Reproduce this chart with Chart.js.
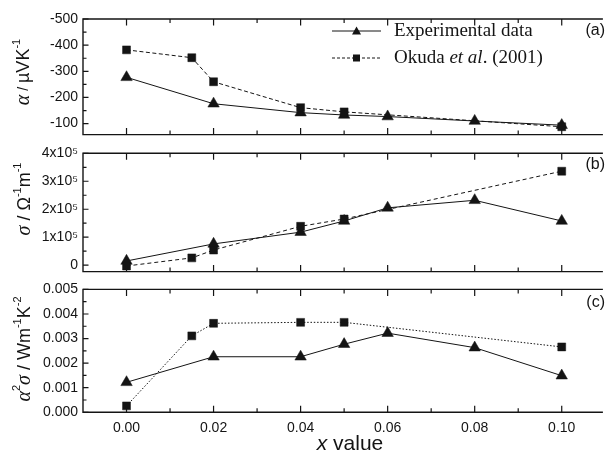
<!DOCTYPE html>
<html>
<head>
<meta charset="utf-8">
<script src="https://cdn.jsdelivr.net/npm/chart.js@4/dist/chart.umd.min.js"></script>
<style>
  body { margin: 0; background: #fff; width: 608px; height: 455px; position: relative; overflow: hidden; }
  canvas { position: absolute; left: 0; }
</style>
</head>
<body>
<canvas id="chartA" width="608" height="148" style="top:0px"></canvas>
<canvas id="chartB" width="608" height="147" style="top:138px"></canvas>
<canvas id="chartC" width="608" height="179" style="top:276px"></canvas>
<script>
// valeurs
const expX = [0, 0.02, 0.04, 0.05, 0.06, 0.08, 0.10];
const okuX = [0, 0.015, 0.02, 0.04, 0.05, 0.10];

const expAlpha = [-277, -176, -142, -133, -127, -110, -94];
const okuAlpha = [-382, -352, -260, -161, -145, -88];

const expSigma = [15000, 76000, 118000, 158000, 205000, 232000, 158000];
const okuSigma = [-3000, 26000, 54000, 139000, 165000, 336000];

const expPF = [0.00122, 0.00226, 0.00226, 0.00277, 0.00322, 0.00263, 0.00149];
const okuPF = [0.00026, 0.00311, 0.00362, 0.00366, 0.00366, 0.00266];

const xMajor = [0, 0.02, 0.04, 0.06, 0.08, 0.10];
const xMinor = [0.01, 0.03, 0.05, 0.07, 0.09];

const alphaMajor = [-500, -400, -300, -200, -100];
const alphaMinor = [-450, -350, -250, -150];
const sigmaMajor = [0, 100000, 200000, 300000, 400000];
const sigmaMinor = [50000, 150000, 250000, 350000];
const pfMajor = [0, 0.001, 0.002, 0.003, 0.004, 0.005];
const pfMinor = [0.0005, 0.0015, 0.0025, 0.0035, 0.0045];

const INK = '#141414';
const SANS = '"Liberation Sans", Arial, sans-serif';
const SERIF = '"Liberation Serif", "Times New Roman", serif';

function pts(xs, ys) {
    return xs.map((x, i) => ({ x: x, y: ys[i] }));
}

/**
 * Texte avec morceaux (italique, exposant), tourné ou non.
 */
function drawRich(ctx, runs, cx, cy, rotate) {
    ctx.save();
    ctx.translate(cx, cy);
    if (rotate) ctx.rotate(-Math.PI / 2);
    let total = 0;
    runs.forEach(r => {
        ctx.font = r.f;
        r.w = ctx.measureText(r.t).width;
        total += r.w;
    });
    let x = -total / 2;
    ctx.fillStyle = INK;
    ctx.textBaseline = 'middle';
    ctx.textAlign = 'left';
    runs.forEach(r => {
        ctx.font = r.f;
        ctx.fillText(r.t, x, r.dy || 0);
        x += r.w;
    });
    ctx.restore();
}

function frameFor(yMajor, yMinor) {
    return {
        id: 'frame',
        afterDraw(chart) {
            const { ctx, chartArea: a, scales } = chart;
            const xs = scales.x, ys = scales.y;
            ctx.save();
            ctx.strokeStyle = INK;
            ctx.lineWidth = 1.4;
            ctx.beginPath();
            ctx.moveTo(a.right + 2, a.top);
            ctx.lineTo(a.left, a.top);
            ctx.lineTo(a.left, a.bottom);
            ctx.lineTo(a.right + 2, a.bottom);
            ctx.stroke();

            ctx.lineWidth = 1.2;
            ctx.beginPath();
            xMajor.forEach(v => {
                const px = xs.getPixelForValue(v);
                ctx.moveTo(px, a.bottom); ctx.lineTo(px, a.bottom - 6.5);
                ctx.moveTo(px, a.top); ctx.lineTo(px, a.top + 6.5);
            });
            xMinor.forEach(v => {
                const px = xs.getPixelForValue(v);
                ctx.moveTo(px, a.bottom); ctx.lineTo(px, a.bottom - 4);
                ctx.moveTo(px, a.top); ctx.lineTo(px, a.top + 4);
            });
            yMajor.forEach(v => {
                const py = ys.getPixelForValue(v);
                ctx.moveTo(a.left, py); ctx.lineTo(a.left + 5.5, py);
            });
            yMinor.forEach(v => {
                const py = ys.getPixelForValue(v);
                ctx.moveTo(a.left, py); ctx.lineTo(a.left + 3.5, py);
            });
            ctx.stroke();
            ctx.restore();
        }
    };
}

function makePanel(id, cfg) {
    const ctx = document.getElementById(id).getContext('2d');
    return new Chart(ctx, {
        type: 'scatter',
        data: {
            datasets: [{
                label: 'Okuda et al. (2001)',
                data: pts(okuX, cfg.oku),
                showLine: true,
                borderColor: INK,
                borderWidth: 1,
                borderDash: cfg.dash,
                pointStyle: 'rect',
                pointRadius: 5.6,
                pointBackgroundColor: INK,
                pointBorderColor: INK,
                pointBorderWidth: 0.5,
            }, {
                label: 'Experimental data',
                data: pts(expX, cfg.exp),
                showLine: true,
                borderColor: INK,
                borderWidth: 1,
                pointStyle: 'triangle',
                pointRadius: 6.6,
                pointBackgroundColor: INK,
                pointBorderColor: INK,
                pointBorderWidth: 0.5,
            }]
        },
        options: {
            responsive: false,
            animation: false,
            layout: { padding: cfg.padding },
            plugins: {
                legend: { display: false },
                tooltip: { enabled: false }
            },
            scales: {
                x: {
                    type: 'linear',
                    min: -0.01,
                    max: 0.109,
                    display: cfg.showX,
                    grid: { display: false, drawTicks: false },
                    border: { display: false },
                    afterBuildTicks: s => { s.ticks = xMajor.map(v => ({ value: v })); },
                    afterFit: s => { if (cfg.showX) s.height = 42.7; },
                    ticks: {
                        padding: 7,
                        autoSkip: false,
                        color: INK,
                        font: { family: SANS, size: 14 },
                        maxRotation: 0,
                        callback: v => v.toFixed(2)
                    }
                },
                y: {
                    type: 'linear',
                    min: cfg.yMin,
                    max: cfg.yMax,
                    reverse: !!cfg.reverse,
                    grid: { display: false, drawTicks: false },
                    border: { display: false },
                    afterBuildTicks: s => { s.ticks = cfg.yMajor.map(v => ({ value: v })); },
                    afterFit: s => { s.width = 83; },
                    ticks: {
                        padding: 5,
                        autoSkip: false,
                        color: INK,
                        font: { family: SANS, size: 14 },
                        callback: cfg.fmt
                    }
                }
            }
        },
        plugins: [frameFor(cfg.yMajor, cfg.yMinor), { id: 'extra', afterDraw: c => cfg.extra(c.ctx) }]
    });
}

const supF = '11px ' + SANS;
const bigF = '18px ' + SANS;
const greekF = 'italic 20px ' + SERIF;

function panelTag(ctx, txt, y) {
    ctx.save();
    ctx.fillStyle = INK;
    ctx.font = '16px ' + SANS;
    ctx.textAlign = 'right';
    ctx.textBaseline = 'middle';
    ctx.fillText(txt, 605, y);
    ctx.restore();
}

// (a) pouvoir thermoélectrique
makePanel('chartA', {
    exp: expAlpha, oku: okuAlpha, dash: [4, 2.5],
    yMin: -500, yMax: -58, reverse: true,
    yMajor: alphaMajor, yMinor: alphaMinor,
    fmt: v => String(v),
    padding: { top: 19, bottom: 6.3, left: 0, right: 0 },
    showX: false,
    extra: ctx => {
        drawRich(ctx, [
            { t: 'α', f: greekF },
            { t: ' / ', f: '14px ' + SANS },
            { t: 'µVK', f: bigF },
            { t: '-1', f: supF, dy: -7 }
        ], 24, 72, true);
        panelTag(ctx, '(a)', 31);

        // légende
        ctx.save();
        ctx.fillStyle = INK;
        ctx.strokeStyle = INK;
        ctx.lineWidth = 1;
        ctx.beginPath();
        ctx.moveTo(332, 31); ctx.lineTo(381, 31);
        ctx.stroke();
        ctx.beginPath();
        ctx.moveTo(356.5, 26.5); ctx.lineTo(361, 34.5); ctx.lineTo(352, 34.5); ctx.closePath();
        ctx.fill();
        ctx.setLineDash([3, 2]);
        ctx.beginPath();
        ctx.moveTo(332, 58); ctx.lineTo(381, 58);
        ctx.stroke();
        ctx.setLineDash([]);
        ctx.fillRect(353, 54.5, 7, 7);

        ctx.textAlign = 'left';
        ctx.textBaseline = 'middle';
        ctx.font = '19px ' + SERIF;
        ctx.fillText('Experimental data', 394, 31);
        let x = 394;
        ctx.fillText('Okuda ', x, 58);
        x += ctx.measureText('Okuda ').width;
        ctx.font = 'italic 19px ' + SERIF;
        ctx.fillText('et al', x, 58);
        x += ctx.measureText('et al').width;
        ctx.font = '19px ' + SERIF;
        ctx.fillText('. (2001)', x, 58);
        ctx.restore();
    }
});

// (b) conductivité
makePanel('chartB', {
    exp: expSigma, oku: okuSigma, dash: [4, 3],
    yMin: -23000, yMax: 400000,
    yMajor: sigmaMajor, yMinor: sigmaMinor,
    fmt: v => v === 0 ? '0' : (v / 100000) + 'x10⁵',
    padding: { top: 15.3, bottom: 10, left: 0, right: 0 },
    showX: false,
    extra: ctx => {
        drawRich(ctx, [
            { t: 'σ', f: greekF },
            { t: ' / ', f: bigF },
            { t: 'Ω', f: bigF },
            { t: '-1', f: supF, dy: -7 },
            { t: 'm', f: bigF },
            { t: '-1', f: supF, dy: -7 }
        ], 25, 61, true);
        panelTag(ctx, '(b)', 27);
    }
});

// (c) facteur de puissance
makePanel('chartC', {
    exp: expPF, oku: okuPF, dash: [1.5, 1.8],
    yMin: 0, yMax: 0.005,
    yMajor: pfMajor, yMinor: pfMinor,
    fmt: v => v.toFixed(3),
    padding: { top: 13, bottom: 0, left: 0, right: 0 },
    showX: true,
    extra: ctx => {
        drawRich(ctx, [
            { t: 'α', f: greekF },
            { t: '2', f: supF, dy: -8 },
            { t: 'σ', f: greekF },
            { t: ' / Wm', f: bigF },
            { t: '-1', f: supF, dy: -7 },
            { t: 'K', f: bigF },
            { t: '-2', f: supF, dy: -7 }
        ], 25, 73, true);
        drawRich(ctx, [
            { t: 'x', f: 'italic 21px ' + SANS },
            { t: ' value', f: '21px ' + SANS }
        ], 350, 168, false);
        panelTag(ctx, '(c)', 27);
    }
});
</script>
</body>
</html>
